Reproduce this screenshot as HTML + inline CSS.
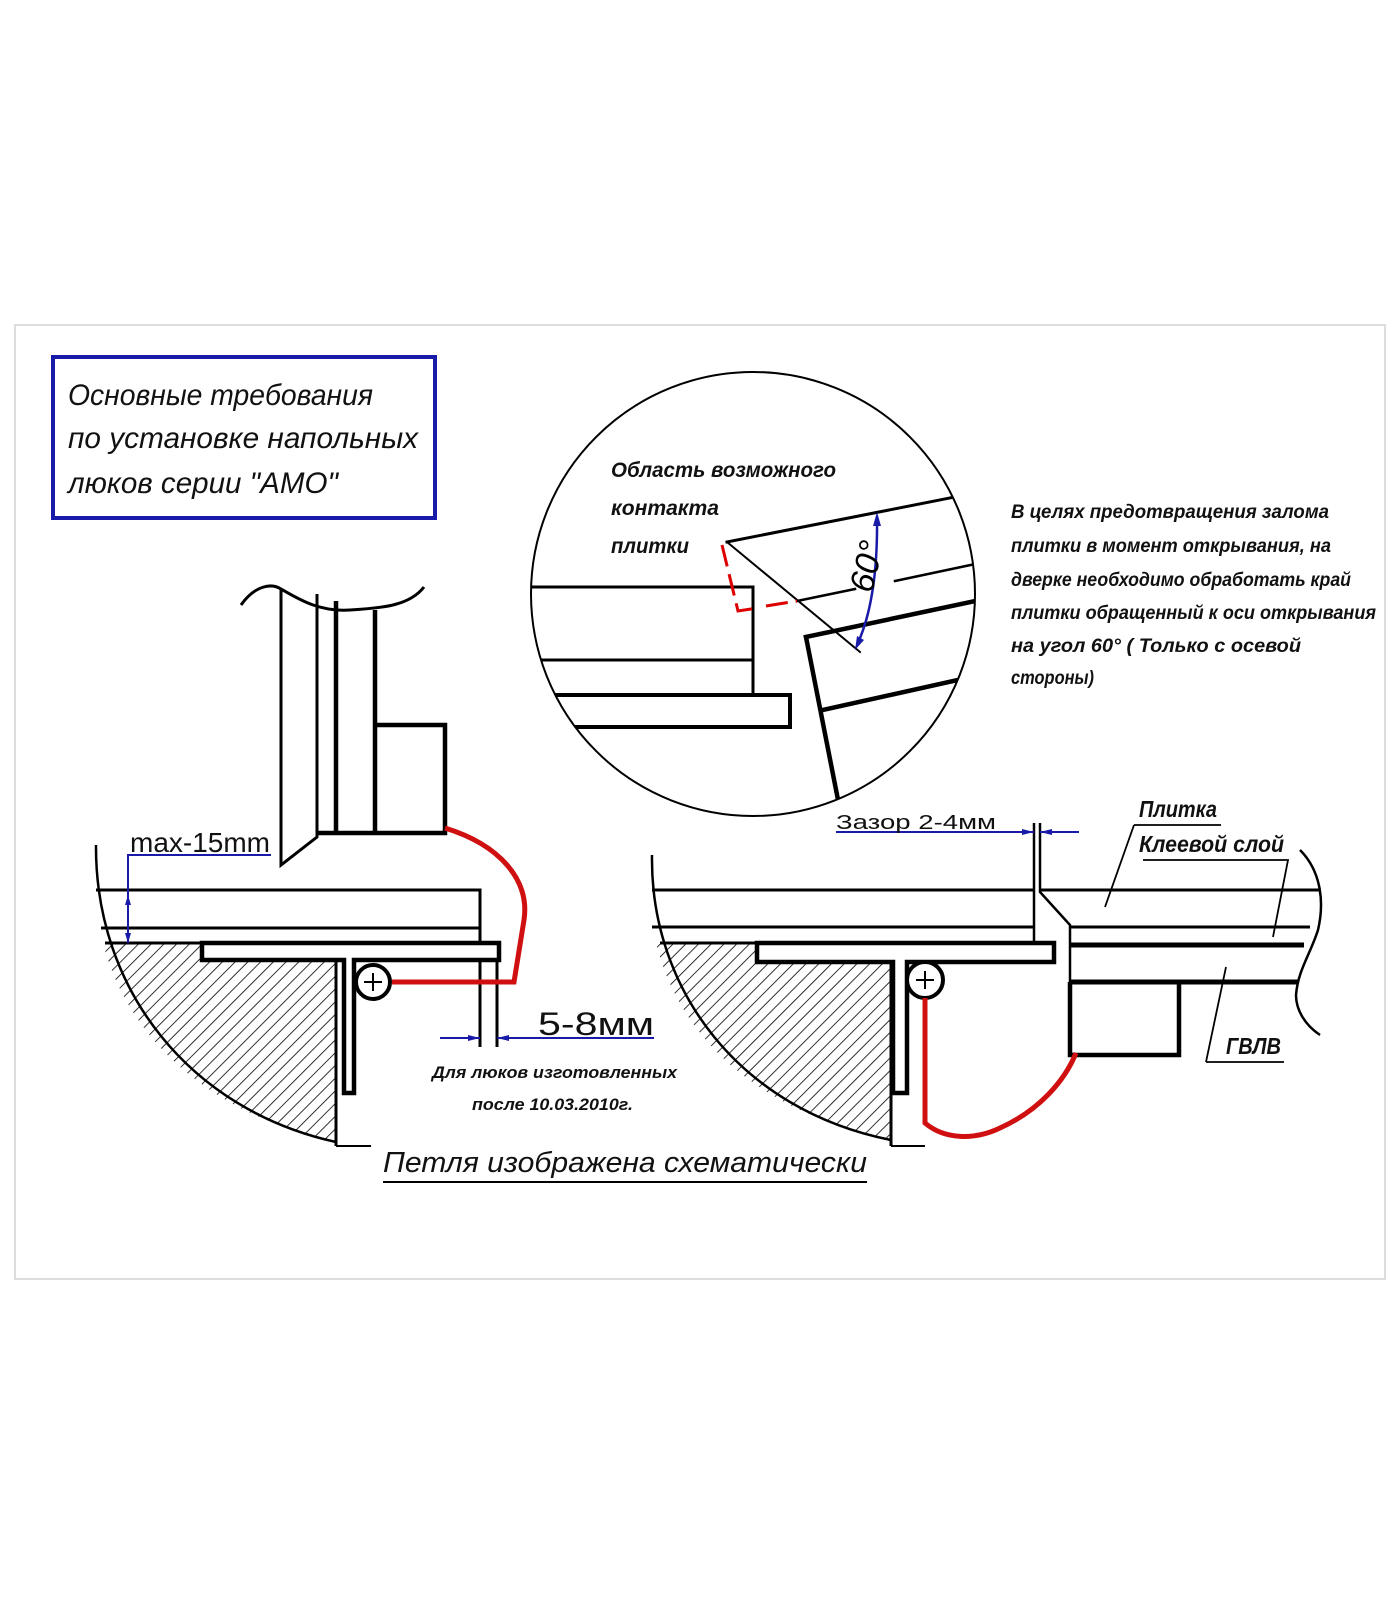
<!DOCTYPE html>
<html><head><meta charset="utf-8"><style>html,body{margin:0;padding:0;background:#fff}svg{display:block}</style></head>
<body>
<svg width="1400" height="1600" viewBox="0 0 1400 1600" xmlns="http://www.w3.org/2000/svg" font-family="'Liberation Sans', sans-serif">
<defs>
<pattern id="h" width="9" height="9" patternUnits="userSpaceOnUse" patternTransform="rotate(45)">
<line x1="0" y1="0" x2="0" y2="9" stroke="#000" stroke-width="1.6"/>
</pattern>
<clipPath id="circ"><circle cx="753" cy="594" r="222"/></clipPath>
</defs>
<rect x="15" y="325" width="1370" height="954" fill="none" stroke="#ddd" stroke-width="2"/>

<!-- title box -->
<rect x="53" y="357" width="382" height="161" fill="none" stroke="#1a1aa8" stroke-width="4"/>
<g font-style="italic" font-size="30" fill="#111">
<text x="68" y="405" textLength="305" lengthAdjust="spacingAndGlyphs">Основные требования</text>
<text x="68" y="448" textLength="350" lengthAdjust="spacingAndGlyphs">по установке напольных</text>
<text x="68" y="493" textLength="270" lengthAdjust="spacingAndGlyphs">люков серии  "АМО"</text>
</g>

<!-- circle detail -->
<circle cx="753" cy="594" r="222" fill="none" stroke="#000" stroke-width="2"/>
<g clip-path="url(#circ)" stroke="#000" fill="none" stroke-linecap="square">
<path d="M520,587 H753 V693" stroke-width="3"/>
<path d="M520,660 H753" stroke-width="3"/>
<path d="M520,695 H790 V727 H520" stroke-width="4"/>
<path d="M727,542 L980,492" stroke-width="3"/>
<path d="M727,542 L860,652" stroke-width="2"/>
<path d="M797,601 L855,589 M895,581 L980,563" stroke-width="2.5"/>
<path d="M806,637 L980,600" stroke-width="4.5"/>
<path d="M823,710 L980,675" stroke-width="4.5"/>
<path d="M806,637 L840,810" stroke-width="4.5"/>
</g>
<path d="M722,545 L738,611 L758,608 M766,606 L797,601" stroke="#d00" stroke-width="3" fill="none" stroke-dasharray="22,8"/>
<path d="M877,518 Q878,600 857,645" stroke="#1a1aa8" stroke-width="2.5" fill="none"/>
<path d="M877,512 L873,526 L881,526 Z M855,650 L857,636 L864,640 Z" fill="#1a1aa8"/>
<text x="0" y="0" font-style="italic" font-size="34" transform="translate(872,594) rotate(-77)" fill="#000">60°</text>
<g font-style="italic" font-weight="bold" font-size="21" fill="#111">
<text x="611" y="477" textLength="225" lengthAdjust="spacingAndGlyphs">Область возможного</text>
<text x="611" y="515" textLength="108" lengthAdjust="spacingAndGlyphs">контакта</text>
<text x="611" y="553" textLength="78" lengthAdjust="spacingAndGlyphs">плитки</text>
</g>

<!-- right paragraph -->
<g font-style="italic" font-weight="bold" font-size="19" fill="#111">
<text x="1011" y="518" textLength="318" lengthAdjust="spacingAndGlyphs">В целях предотвращения залома</text>
<text x="1011" y="552" textLength="320" lengthAdjust="spacingAndGlyphs">плитки в момент открывания, на</text>
<text x="1011" y="586" textLength="340" lengthAdjust="spacingAndGlyphs">дверке необходимо обработать край</text>
<text x="1011" y="619" textLength="365" lengthAdjust="spacingAndGlyphs">плитки обращенный к оси открывания</text>
<text x="1011" y="652" textLength="290" lengthAdjust="spacingAndGlyphs">на угол 60° ( Только с осевой</text>
<text x="1011" y="684" textLength="83" lengthAdjust="spacingAndGlyphs">стороны)</text>
</g>

<!-- LEFT SECTION -->
<g stroke="#000" fill="none">
<path d="M241,605 C255,585 272,583 281,589 C300,600 320,612 350,610 C385,608 410,605 424,587" stroke-width="3"/>
<path d="M281,589 V865 L317,837 V594" stroke-width="3"/>
<path d="M336,601 V833 M375,610 V833" stroke-width="4.5"/>
<path d="M317,833 H445 V725 H375" stroke-width="4.5"/>
<path d="M96,845 C95,990 190,1110 336,1142" stroke-width="2.5"/>
<path d="M336,1146 H371" stroke-width="2"/>
<path d="M96,890 H480 V1047 M101,928 H480 M497,960 V1047" stroke-width="3"/>
<path d="M103,943 L336,943 L336,1142 C200,1112 125,1030 103,943 Z" fill="url(#h)" stroke="none"/>
<path d="M105,943 H336 V1146" stroke-width="3"/>
<path d="M202,943 H499 V960 H354 V1093 H344 V960 H202 Z" fill="#fff" stroke-width="4.5"/>
<circle cx="373" cy="982" r="17" fill="#fff" stroke-width="4"/>
<path d="M364,982 H382 M373,973 V991" stroke-width="2"/>
<path d="M445,828 C500,845 530,880 524,920 L514,982 H392" stroke="#d01010" stroke-width="5"/>
</g>
<!-- dims -->
<g stroke="#1a1aa8" stroke-width="2" fill="none">
<path d="M128,943 V855 H271"/>
<path d="M440,1038 H480 M497,1038 H654"/>
</g>
<path d="M128,895 L125,905 H131 Z M128,943 L125,933 H131 Z" fill="#1a1aa8"/>
<path d="M480,1038 L468,1035 V1041 Z M497,1038 L509,1035 V1041 Z" fill="#1a1aa8"/>
<text x="130" y="852" font-size="28" fill="#111" textLength="140" lengthAdjust="spacingAndGlyphs">max-15mm</text>
<text x="538" y="1035" font-size="32" fill="#111" textLength="116" lengthAdjust="spacingAndGlyphs">5-8мм</text>
<g font-style="italic" font-weight="bold" font-size="17" fill="#111">
<text x="432" y="1078" textLength="245" lengthAdjust="spacingAndGlyphs">Для люков изготовленных</text>
<text x="472" y="1110" textLength="161" lengthAdjust="spacingAndGlyphs">после 10.03.2010г.</text>
</g>

<!-- RIGHT SECTION -->
<g stroke="#000" fill="none">
<path d="M652,855 C650,990 740,1110 891,1140" stroke-width="2.5"/>
<path d="M891,1146 H925" stroke-width="2"/>
<path d="M652,890 H1034 M1040,890 H1320 M652,927 H1034 M1070,927 H1310" stroke-width="3"/>
<path d="M1034,823 V943 M1040,823 V892 L1070,925 V1055" stroke-width="2.5"/>
<path d="M656,943 L891,943 L891,1140 C760,1112 680,1040 656,943 Z" fill="url(#h)" stroke="none"/>
<path d="M660,943 H891 V1146" stroke-width="3"/>
<path d="M757,943 H1054 V962 H907 V1093 H893 V962 H757 Z" fill="#fff" stroke-width="4.5"/>
<circle cx="925" cy="980" r="18" fill="#fff" stroke-width="4"/>
<path d="M916,980 H934 M925,971 V989" stroke-width="2"/>
<path d="M1070,945 H1304 M1070,982 H1298" stroke-width="5"/>
<path d="M1070,982 V1055 H1179 V982" stroke-width="4.5"/>
<path d="M1300,850 C1320,870 1325,900 1318,930 C1310,955 1298,970 1296,995 C1296,1010 1305,1025 1320,1035" stroke-width="2.5"/>
<path d="M925,998 V1123 C945,1140 975,1140 1000,1128 C1040,1110 1065,1080 1076,1053" stroke="#d01010" stroke-width="5"/>
<path d="M1134,825 H1221 M1134,825 L1105,907 M1143,860 H1288 L1273,937 M1206,1062 H1284 M1206,1062 L1226,967" stroke-width="1.8"/>
</g>
<path d="M836,832 H1034 M1040,832 H1079" stroke="#1a1aa8" stroke-width="2" fill="none"/>
<path d="M1034,832 L1022,829 V835 Z M1040,832 L1052,829 V835 Z" fill="#1a1aa8"/>
<text x="836" y="829" font-size="20" fill="#111" textLength="160" lengthAdjust="spacingAndGlyphs">Зазор  2-4мм</text>
<g font-style="italic" font-weight="bold" font-size="23" fill="#111">
<text x="1139" y="817" textLength="78" lengthAdjust="spacingAndGlyphs">Плитка</text>
<text x="1139" y="852" textLength="145" lengthAdjust="spacingAndGlyphs">Клеевой слой</text>
<text x="1226" y="1054" textLength="55" lengthAdjust="spacingAndGlyphs">ГВЛВ</text>
</g>

<text x="383" y="1172" font-style="italic" font-size="29" fill="#111" textLength="484" lengthAdjust="spacingAndGlyphs">Петля изображена схематически</text>
<line x1="383" y1="1182" x2="867" y2="1182" stroke="#000" stroke-width="2"/>
</svg>
</body></html>
